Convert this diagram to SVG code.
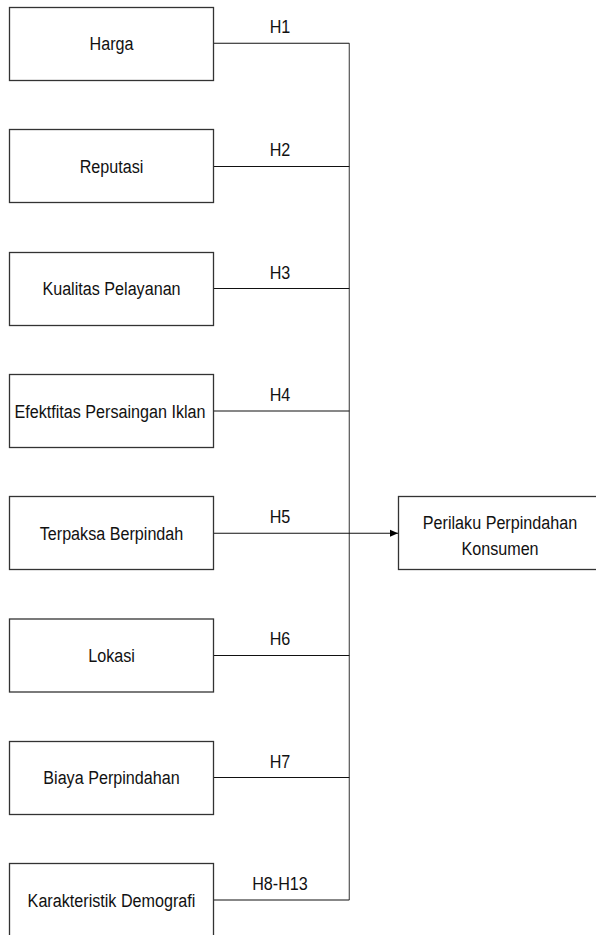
<svg xmlns="http://www.w3.org/2000/svg" width="596" height="935" viewBox="0 0 596 935">
<style>
.box{fill:#fff;stroke:#333;stroke-width:1.3}
.t{font-family:"Liberation Sans",Arial,sans-serif;font-size:19px;fill:#111;text-anchor:middle}
.c{fill:none;stroke:#111;stroke-width:1.1}
.v{fill:none;stroke:#555;stroke-width:1.2}
</style>
<defs>
<marker id="arr" viewBox="0 0 8 8" refX="8" refY="4" markerWidth="8" markerHeight="8" markerUnits="userSpaceOnUse" orient="auto">
<path d="M0,0.5 L8,4 L0,7.5 Z" fill="#000"/>
</marker>
</defs>
<rect width="596" height="935" fill="#fff"/>
<g id="connectors">
<line class="v" x1="349.3" y1="43.3" x2="349.3" y2="900"/>
<line class="c" x1="213.3" y1="43.3" x2="349.3" y2="43.3"/>
<line class="c" x1="213.3" y1="166.5" x2="349.3" y2="166.5"/>
<line class="c" x1="213.3" y1="288.5" x2="349.3" y2="288.5"/>
<line class="c" x1="213.3" y1="411" x2="349.3" y2="411"/>
<line class="c" x1="213.3" y1="533.3" x2="398" y2="533.3" marker-end="url(#arr)"/>
<line class="c" x1="213.3" y1="655.5" x2="349.3" y2="655.5"/>
<line class="c" x1="213.3" y1="777.5" x2="349.3" y2="777.5"/>
<line class="c" x1="213.3" y1="900" x2="349.3" y2="900"/>
<text class="t" transform="translate(280,33) scale(0.85,1)">H1</text>
<text class="t" transform="translate(280,156) scale(0.85,1)">H2</text>
<text class="t" transform="translate(280,278.5) scale(0.85,1)">H3</text>
<text class="t" transform="translate(280,400.5) scale(0.85,1)">H4</text>
<text class="t" transform="translate(280,523) scale(0.85,1)">H5</text>
<text class="t" transform="translate(280,645) scale(0.85,1)">H6</text>
<text class="t" transform="translate(280,767.5) scale(0.85,1)">H7</text>
<text class="t" transform="translate(280,890) scale(0.85,1)">H8-H13</text>
</g>
<g id="harga"><rect class="box" x="9.5" y="7.5" width="204" height="73"/><text class="t" transform="translate(111.5,50) scale(0.85,1)">Harga</text></g>
<g id="reputasi"><rect class="box" x="9.5" y="129.5" width="204" height="73"/><text class="t" transform="translate(111.5,172.5) scale(0.85,1)">Reputasi</text></g>
<g id="kualitas"><rect class="box" x="9.5" y="252.5" width="204" height="73"/><text class="t" transform="translate(111.5,295) scale(0.85,1)">Kualitas Pelayanan</text></g>
<g id="efektifitas"><rect class="box" x="9.5" y="374.5" width="204" height="73"/><text class="t" transform="translate(110,417.5) scale(0.85,1)">Efektfitas Persaingan Iklan</text></g>
<g id="terpaksa"><rect class="box" x="9.5" y="496.5" width="204" height="73"/><text class="t" transform="translate(111.5,539.5) scale(0.85,1)">Terpaksa Berpindah</text></g>
<g id="lokasi"><rect class="box" x="9.5" y="619" width="204" height="73"/><text class="t" transform="translate(111.5,662) scale(0.85,1)">Lokasi</text></g>
<g id="biaya"><rect class="box" x="9.5" y="741.5" width="204" height="73"/><text class="t" transform="translate(111.5,784) scale(0.85,1)">Biaya Perpindahan</text></g>
<g id="karakteristik"><rect class="box" x="9.5" y="863.5" width="204" height="73"/><text class="t" transform="translate(111.5,906.5) scale(0.85,1)">Karakteristik Demografi</text></g>
<g id="perilaku"><rect class="box" x="398.5" y="496.5" width="204" height="73"/><text class="t" transform="translate(500,528.5) scale(0.85,1)">Perilaku Perpindahan</text><text class="t" transform="translate(500,555) scale(0.85,1)">Konsumen</text></g>
</svg>
